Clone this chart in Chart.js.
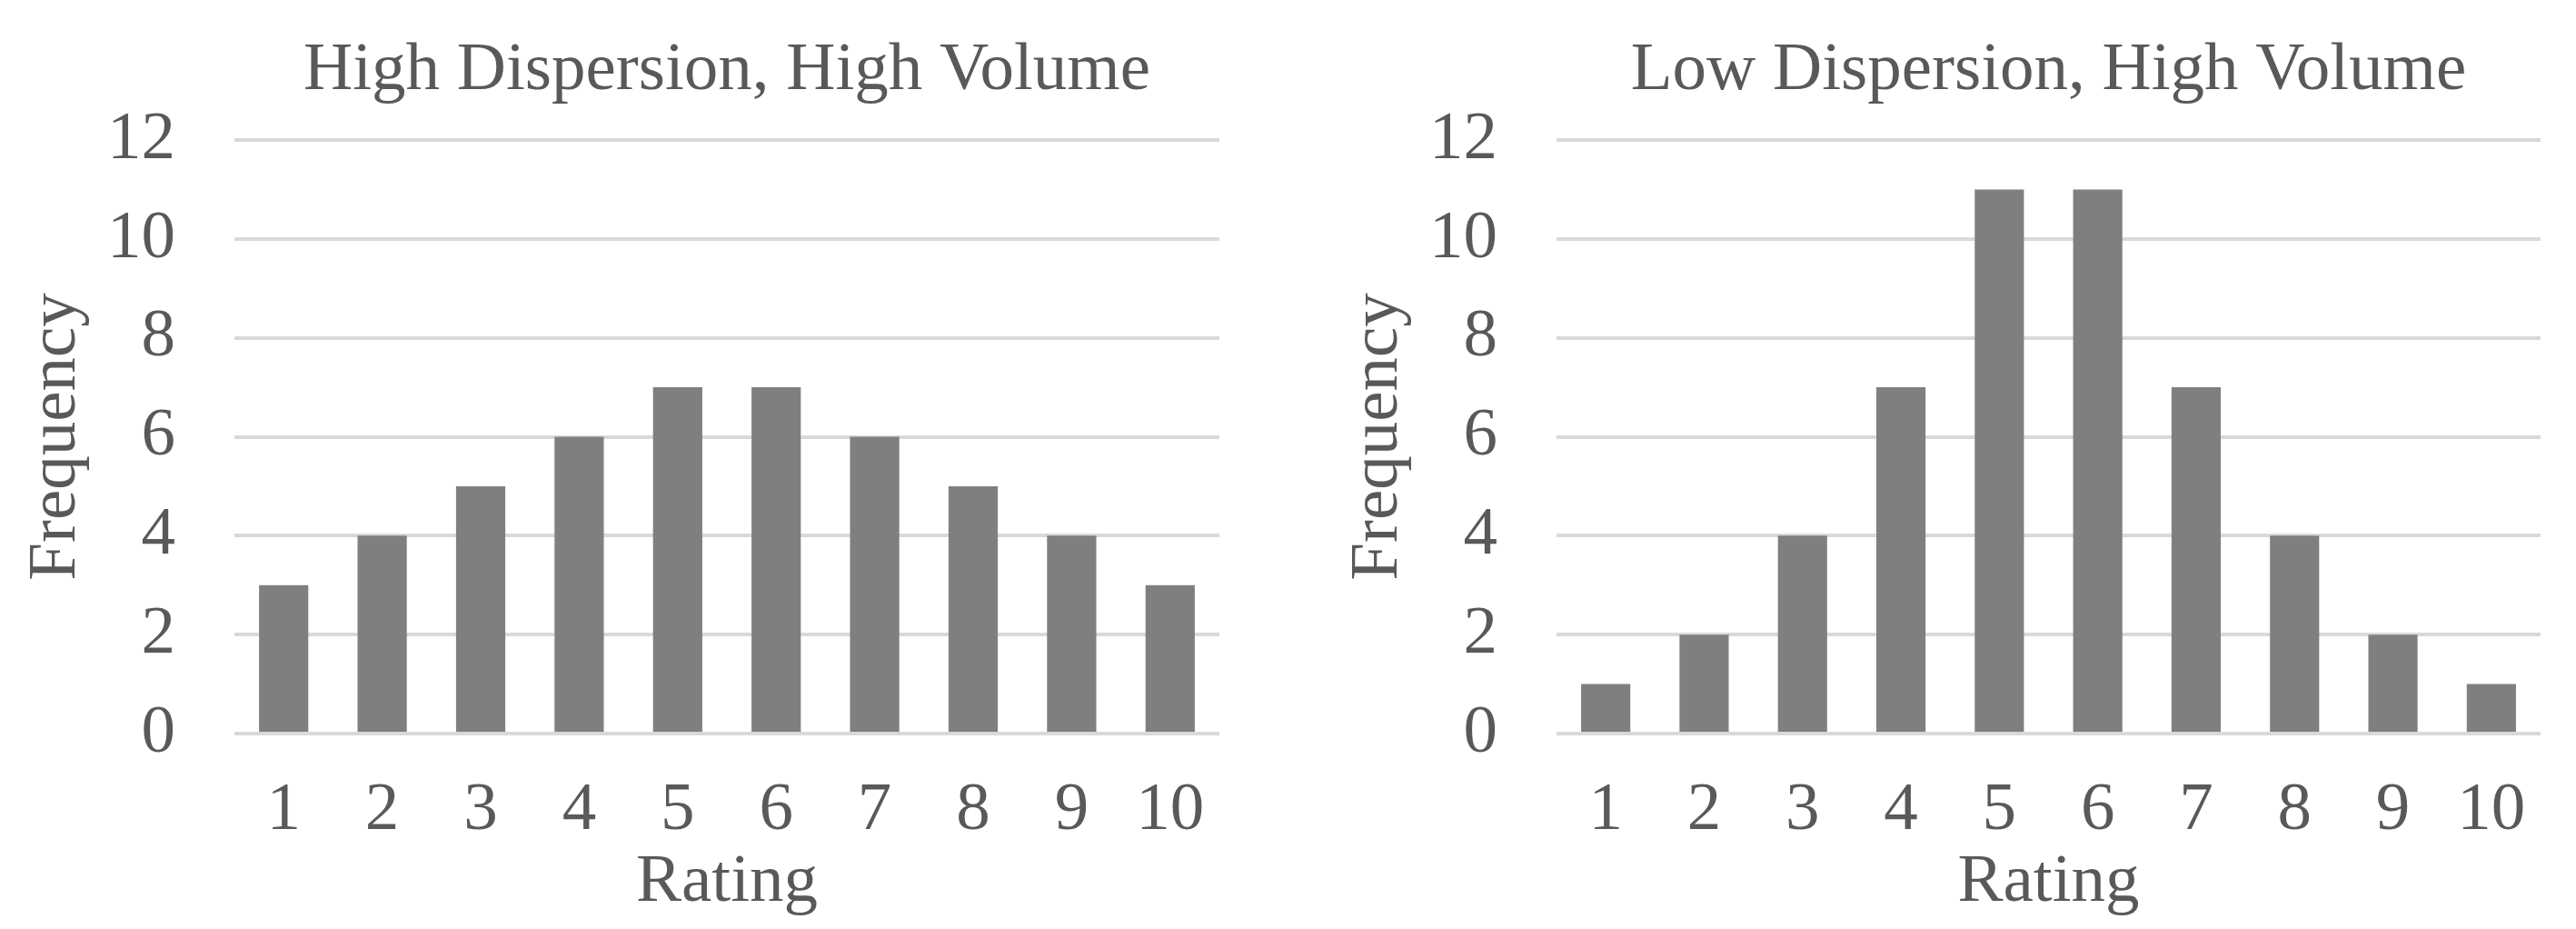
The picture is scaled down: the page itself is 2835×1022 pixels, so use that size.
<!DOCTYPE html>
<html>
<head>
<meta charset="utf-8">
<script src="https://cdn.jsdelivr.net/npm/chart.js@4.4.1/dist/chart.umd.min.js"></script>
<style>
  html, body { margin: 0; padding: 0; background: #ffffff; overflow: hidden; }
  #wrap { position: relative; width: 2835px; height: 1022px; }
  .panel { position: absolute; top: 0; height: 1022px; }
</style>
</head>
<body>
<div id="wrap">
  <div class="panel" style="left:0;width:1455px"><canvas id="chartHigh" width="1455" height="1022"></canvas></div>
  <div class="panel" style="left:1455px;width:1380px"><canvas id="chartLow" width="1380" height="1022"></canvas></div>
</div>
<script>
// data
const ratings = ['1', '2', '3', '4', '5', '6', '7', '8', '9', '10'];
const highDispersionFreq = [3, 4, 5, 6, 7, 7, 6, 5, 4, 3];
const lowDispersionFreq = [1, 2, 4, 7, 11, 11, 7, 4, 2, 1];
const freqMax = 12;
const freqStep = 2;

const TEXT = '#595959';
const GRID = '#d9d9d9';
const BAR = '#7f7f7f';
const FONT = 'Liberation Serif, Times New Roman, serif';
const SIZE = 75;

function makeChart(canvasId, title, values, rightPad) {
    const ctx = document.getElementById(canvasId);
    return new Chart(ctx, {
        type: 'bar',
        data: {
            labels: ratings,
            datasets: [{
                label: 'Frequency',
                data: values,
                backgroundColor: BAR,
                borderWidth: 0,
                categoryPercentage: 0.5,
                barPercentage: 1.0
            }]
        },
        options: {
            responsive: false,
            animation: false,
            devicePixelRatio: 1,
            layout: { padding: { left: 0, right: rightPad, top: 0, bottom: 0 } },
            plugins: {
                legend: { display: false },
                tooltip: { enabled: false },
                title: { display: false }
            },
            scales: {
                // top axis only carries the chart title, so it centres over the plot area
                top: {
                    type: 'category',
                    position: 'top',
                    grid: { display: false, drawTicks: false },
                    border: { display: false },
                    ticks: { display: false },
                    title: {
                        display: true,
                        text: title,
                        color: TEXT,
                        font: { family: FONT, size: SIZE, lineHeight: 1.2 },
                        padding: { top: 33, bottom: 30 }
                    },
                    afterFit: s => { s.height = 154; }
                },
                x: {
                    position: 'bottom',
                    grid: { display: false, drawTicks: false },
                    border: { display: false },
                    ticks: {
                        color: TEXT,
                        padding: 48,
                        maxRotation: 0,
                        autoSkip: false,
                        font: { family: FONT, size: SIZE, lineHeight: 1.0 }
                    },
                    title: {
                        display: true,
                        text: 'Rating',
                        color: TEXT,
                        font: { family: FONT, size: SIZE, lineHeight: 1.0 },
                        padding: { top: 0, bottom: 13 }
                    },
                    afterFit: s => { s.height = 215; }
                },
                y: {
                    min: 0,
                    max: freqMax,
                    grid: { color: GRID, lineWidth: 4, drawTicks: false },
                    border: { display: false },
                    ticks: {
                        stepSize: freqStep,
                        color: TEXT,
                        padding: 65,
                        font: { family: FONT, size: SIZE, lineHeight: 1.2 }
                    },
                    title: {
                        display: true,
                        text: 'Frequency',
                        color: TEXT,
                        font: { family: FONT, size: SIZE, lineHeight: 1.2 },
                        padding: { top: 17, bottom: 0 }
                    },
                    afterFit: s => { s.width = 258; }
                }
            }
        }
    });
}

makeChart('chartHigh', 'High Dispersion, High Volume', highDispersionFreq, 113);
makeChart('chartLow', 'Low Dispersion, High Volume', lowDispersionFreq, 39);
</script>
</body>
</html>
